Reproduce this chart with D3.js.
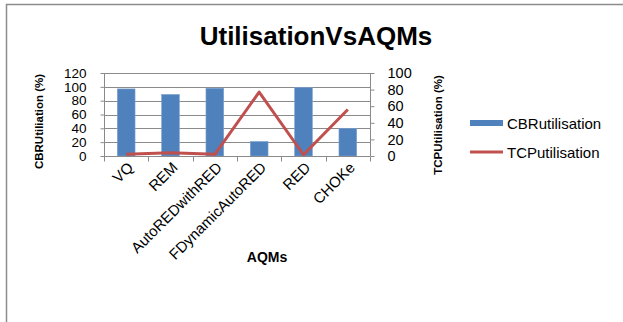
<!DOCTYPE html>
<html><head><meta charset="utf-8">
<script src="https://cdn.jsdelivr.net/npm/d3@7"></script>
<style>body{margin:0;background:#fff}svg{display:block;font-family:"Liberation Sans",Arial,sans-serif}</style>
</head><body><svg id="c" width="623" height="322"></svg>
<script>
const categories = ["VQ","REM","AutoREDwithRED","FDynamicAutoRED","RED","CHOKe"];
const cbrUtilisation = [97, 89, 98, 21, 99, 40];
const tcpUtilisation = [2, 4, 2, 77, 1.5, 56];
const leftTicks = [0,20,40,60,80,100,120];
const rightTicks = [0,20,40,60,80,100];
const seriesNames = ["CBRutilisation","TCPutilisation"];

const svg = d3.select("#c");
const L = 104, R = 370, T = 73, B = 156;
const gridColor = "#8a8a8a";

svg.append("rect").attr("x",6.5).attr("y",4.5).attr("width",700).attr("height",400)
  .attr("fill","#fff").attr("stroke","#8c8c8c").attr("stroke-width",1.5);

const x = d3.scaleBand().domain(categories).range([L,R]).paddingInner(0).paddingOuter(0);
const yL = d3.scaleLinear().domain([0,120]).range([B,T]);
const yR = d3.scaleLinear().domain([0,100]).range([B,T]);

// gridlines
svg.append("g").selectAll("line").data(leftTicks.filter(d=>d>0)).join("line")
  .attr("x1",L).attr("x2",R).attr("y1",d=>Math.round(yL(d))+0.5).attr("y2",d=>Math.round(yL(d))+0.5)
  .attr("stroke",gridColor).attr("stroke-width",1);

// left axis
const gl = svg.append("g").attr("transform",`translate(${L+0.5},0)`)
  .call(d3.axisLeft(yL).tickValues(leftTicks).tickSize(4).tickPadding(14).tickFormat(d3.format("d")));
// right axis
const gr = svg.append("g").attr("transform",`translate(${R+0.5},0)`)
  .call(d3.axisRight(yR).tickValues(rightTicks).tickSize(4).tickPadding(13).tickFormat(d3.format("d")));
gl.selectAll(".tick text").attr("font-size",13.5);
gr.selectAll(".tick text").attr("font-size",14.5);
[gl,gr].forEach(g=>{
  g.select(".domain").attr("stroke",gridColor).attr("d",`M0,${T}V${B}`);
  g.selectAll(".tick line").attr("stroke",gridColor);
  g.selectAll(".tick text").attr("fill","#000").attr("font-family","Liberation Sans, Arial, sans-serif");
});

// bars
const bw = x.bandwidth()*0.4;
svg.append("g").selectAll("rect").data(categories).join("rect")
  .attr("x",d=>x(d)+x.bandwidth()/2-bw/2).attr("width",bw)
  .attr("y",(d,i)=>yL(cbrUtilisation[i])).attr("height",(d,i)=>B-yL(cbrUtilisation[i]))
  .attr("fill","#4F81BD").attr("stroke","#7ea3d2").attr("stroke-width",0.6);

// bottom axis
const gb = svg.append("g").attr("transform",`translate(0,${B+0.5})`);
gb.append("line").attr("x1",L).attr("x2",R).attr("stroke",gridColor);
gb.selectAll("line.t").data(d3.range(categories.length+1)).join("line").attr("class","t")
  .attr("x1",i=>Math.round(L+i*x.step())+0.5).attr("x2",i=>Math.round(L+i*x.step())+0.5)
  .attr("y1",0).attr("y2",5).attr("stroke",gridColor);
gb.selectAll("text").data(categories).join("text")
  .attr("text-anchor","end").attr("font-size",15).attr("fill","#000")
  .attr("transform",d=>`translate(${x(d)+x.bandwidth()/2+8},${12}) rotate(-45)`)
  .text(d=>d);

// line
const line = d3.line().x((d,i)=>x(categories[i])+x.bandwidth()/2).y(d=>yR(d));
svg.append("path").datum(tcpUtilisation).attr("d",line)
  .attr("fill","none").attr("stroke","#C0504D").attr("stroke-width",3).attr("stroke-linejoin","round");

// title
svg.append("text").attr("x",316).attr("y",45).attr("text-anchor","middle")
  .attr("font-size",26).attr("font-weight","bold").text("UtilisationVsAQMs");
// axis titles
svg.append("text").attr("x",267).attr("y",262).attr("text-anchor","middle")
  .attr("font-size",14).attr("font-weight","bold").text("AQMs");
svg.append("text").attr("transform","translate(43,121.5) rotate(-90)").attr("text-anchor","middle")
  .attr("font-size",11.5).attr("font-weight","bold").text("CBRUtiliation (%)");
svg.append("text").attr("transform","translate(442,125) rotate(-90)").attr("text-anchor","middle")
  .attr("font-size",11.5).attr("font-weight","bold").text("TCPUtilisation (%)");

// legend
const lg = svg.append("g");
lg.append("rect").attr("x",470).attr("y",120).attr("width",33).attr("height",6).attr("fill","#4F81BD");
lg.append("text").attr("x",507).attr("y",128.5).attr("font-size",15).text(seriesNames[0]);
lg.append("line").attr("x1",470).attr("x2",503).attr("y1",152).attr("y2",152).attr("stroke","#C0504D").attr("stroke-width",3);
lg.append("text").attr("x",507).attr("y",157.5).attr("font-size",15).text(seriesNames[1]);
</script></body></html>
